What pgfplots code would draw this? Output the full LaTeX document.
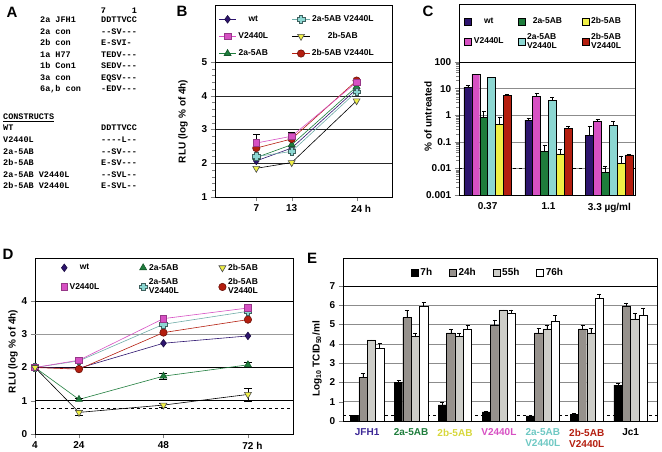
\documentclass[border=0pt]{standalone}
\usepackage{fontspec}
\setmainfont{Liberation Sans}
\newfontfamily\monofont{Liberation Mono}
\usepackage{pgfplots}
\pgfplotsset{compat=1.18}
\usetikzlibrary{plotmarks}

\definecolor{wtC}{RGB}{45,20,110}
\definecolor{vC}{RGB}{215,80,195}
\definecolor{gC}{RGB}{30,125,60}
\definecolor{cC}{RGB}{140,215,210}
\definecolor{yC}{RGB}{240,240,70}
\definecolor{rC}{RGB}{180,30,15}
\definecolor{jfhC}{RGB}{60,40,150}
\definecolor{ylab}{RGB}{215,215,60}
\definecolor{clab}{RGB}{110,200,195}
\definecolor{g24}{RGB}{150,145,140}
\definecolor{g55}{RGB}{205,205,200}

\pgfdeclareplotmark{fatcross}{%
  \pgfpathmoveto{\pgfqpoint{-0.45\pgfplotmarksize}{\pgfplotmarksize}}%
  \pgfpathlineto{\pgfqpoint{0.45\pgfplotmarksize}{\pgfplotmarksize}}%
  \pgfpathlineto{\pgfqpoint{0.45\pgfplotmarksize}{0.45\pgfplotmarksize}}%
  \pgfpathlineto{\pgfqpoint{\pgfplotmarksize}{0.45\pgfplotmarksize}}%
  \pgfpathlineto{\pgfqpoint{\pgfplotmarksize}{-0.45\pgfplotmarksize}}%
  \pgfpathlineto{\pgfqpoint{0.45\pgfplotmarksize}{-0.45\pgfplotmarksize}}%
  \pgfpathlineto{\pgfqpoint{0.45\pgfplotmarksize}{-\pgfplotmarksize}}%
  \pgfpathlineto{\pgfqpoint{-0.45\pgfplotmarksize}{-\pgfplotmarksize}}%
  \pgfpathlineto{\pgfqpoint{-0.45\pgfplotmarksize}{-0.45\pgfplotmarksize}}%
  \pgfpathlineto{\pgfqpoint{-\pgfplotmarksize}{-0.45\pgfplotmarksize}}%
  \pgfpathlineto{\pgfqpoint{-\pgfplotmarksize}{0.45\pgfplotmarksize}}%
  \pgfpathlineto{\pgfqpoint{-0.45\pgfplotmarksize}{0.45\pgfplotmarksize}}%
  \pgfpathclose
  \pgfusepathqfillstroke
}

\newcommand\lf{\bfseries\fontsize{8.5}{9.5}\selectfont}
\newcommand\tf{\bfseries\fontsize{10}{11}\selectfont}
\newcommand\af{\monofont\bfseries\fontsize{8.5}{9}\selectfont}

\pgfplotsset{
  sWT/.style={color=wtC, line width=0.6pt, mark=diamond*, mark size=3.8pt, mark options={solid, fill=wtC, draw=wtC!60!black}},
  sV/.style={color=vC, line width=0.6pt, mark=square*, mark size=3.3pt, mark options={solid, fill=vC, draw=vC!70!black}},
  s2a/.style={color=gC, line width=0.6pt, mark=triangle*, mark size=4pt, mark options={solid, fill=gC, draw=gC!70!black}},
  s2aV/.style={color=cC!80!black, line width=0.6pt, mark=fatcross, mark size=3.8pt, mark options={solid, fill=cC, draw=cC!45!black}},
  s2b/.style={color=black, line width=0.6pt, mark=triangle*, mark size=4pt, mark options={solid, rotate=180, fill=yC, draw=black!70}},
  s2bV/.style={color=rC, line width=0.6pt, mark=*, mark size=3.7pt, mark options={solid, fill=rC, draw=rC!60!black}},
  common/.style={scale only axis, anchor=north west,
    tick align=outside, xtick pos=bottom, ytick pos=left,
    ticklabel style={font=\tf}, label style={font=\tf},
    /pgf/number format/assume math mode=true,
    axis line style={line width=0.8pt},
    clip mode=individual,
    error bars/error bar style={black, line width=0.5pt}},
  barleg/.style={legend image code/.code={\draw[##1, draw=black, line width=0.4pt] (0pt,-3.5pt) rectangle (7pt,3.5pt);}},
  cbar/.style={ybar, bar width=0.13, bar shift=0, draw=black, line width=0.4pt, fill=#1,
    error bars/.cd, y dir=plus, y explicit},
  ebar/.style={ybar, bar width=0.19, bar shift=0, draw=black, line width=0.4pt, fill=#1,
    error bars/.cd, y dir=plus, y explicit},
}

\begin{document}
\begin{tikzpicture}[x=1pt,y=1pt]
\useasboundingbox (0,0) rectangle (662,-452);

% ---------------- Panel A ----------------
\node[font=\bfseries\fontsize{15}{15}\selectfont] at (12,-12) {A};
\node[anchor=south, font=\af, inner sep=0pt, align=center] at (103.5,-12.5) {\shortstack{7\\[-5pt].}};
\node[anchor=south, font=\af, inner sep=0pt, align=center] at (134.5,-12.5) {\shortstack{1\\[-5pt].}};
\foreach \yy/\lab/\sq in {23/2a JFH1/DDTTVCC, 34.5/2a con/--SV---, 46/2b con/E-SVI-, 57.5/1a H77/TEDV---, 69/1b Con1/SEDV---, 80.5/3a con/EQSV---, 92/{6a,b con}/-EDV---}{
  \node[anchor=base west, font=\af, inner sep=0pt] at (40,-\yy) {\lab};
  \node[anchor=base west, font=\af, inner sep=0pt] at (101,-\yy) {\sq};
}
\node[anchor=base west, font=\af, inner sep=0pt] at (3,-120) {\underline{CONSTRUCTS}};
\foreach \yy/\lab/\sq in {131/WT/DDTTVCC, 142.5/V2440L/----L--, 154/2a-5AB/--SV---, 165.5/2b-5AB/E-SV---, 177/2a-5AB V2440L/--SVL--, 188.5/2b-5AB V2440L/E-SVL--}{
  \node[anchor=base west, font=\af, inner sep=0pt] at (3,-\yy) {\lab};
  \node[anchor=base west, font=\af, inner sep=0pt] at (101,-\yy) {\sq};
}

% ---------------- Panel B ----------------
\node[font=\bfseries\fontsize{15}{15}\selectfont] at (182,-11) {B};
\begin{axis}[common,
  at={(215pt,-62pt)}, width=177pt, height=135pt,
  xmin=0, xmax=30, ymin=1, ymax=5,
  xtick={7,13,24}, xticklabels={7,13,{24\rlap{ h}}},
  ytick={1,2,3,4,5}, minor y tick num=4,
  ymajorgrids, major grid style={black!85, line width=0.5pt},
  ylabel={RLU (log \% of 4h)}, ylabel style={at={(axis description cs:-0.18,0.56)}, anchor=center},
  legend columns=2,
  legend style={at={(0.02,1.36)}, anchor=north west, draw=none, fill=none, font=\lf, inner sep=0pt,
    row sep=5.5pt, /tikz/every even column/.append style={column sep=22pt}},
]
\draw[line width=0.8pt] (rel axis cs:0,1) rectangle (rel axis cs:1,1.422);
\addplot[sWT, forget plot] coordinates {(7,2.07) (13,2.45) (24,4.2)};
\addplot[s2a, forget plot] coordinates {(7,2.17) (13,2.55) (24,4.27)};
\addplot[s2aV, forget plot] coordinates {(7,2.2) (13,2.35) (24,4.12)};
\addplot[s2b, forget plot] coordinates {(7,1.85) (13,2.02) (24,3.85)};
\addplot[s2bV, forget plot] coordinates {(7,2.45) (13,2.72) (24,4.45)};
\addplot[sV, forget plot, error bars/.cd, y dir=plus, y explicit] coordinates {(7,2.6) +- (0,0.25) (13,2.8) +- (0,0.12) (24,4.4) +- (0,0)};
\addlegendimage{sWT}\addlegendentry{wt}
\addlegendimage{s2aV}\addlegendentry{2a-5AB V2440L}
\addlegendimage{sV}\addlegendentry{V2440L}
\addlegendimage{s2b}\addlegendentry{2b-5AB}
\addlegendimage{s2a}\addlegendentry{2a-5AB}
\addlegendimage{s2bV}\addlegendentry{2b-5AB V2440L}
\end{axis}

% ---------------- Panel C ----------------
\node[font=\bfseries\fontsize{15}{15}\selectfont] at (428,-11) {C};
\begin{axis}[common, barleg,
  at={(459pt,-62pt)}, width=176pt, height=133pt,
  ymode=log, ymin=0.001, ymax=100, log origin y=infty,
  xmin=-0.47, xmax=2.42,
  xtick={0,1,2}, xticklabels={0.37,1.1,3.3 µg/ml}, xtick style={draw=none},
  ytick={0.001,0.01,0.1,1,10,100}, yticklabels={0.001,0.01,0.1,1,10,100},
  ymajorgrids, major grid style={black!45, line width=0.5pt},
  ylabel={\% of untreated}, ylabel style={at={(axis description cs:-0.176,0.59)}, anchor=center},
  legend columns=3,
  legend style={at={(0.03,1.35)}, anchor=north west, draw=none, fill=none, font=\lf, inner sep=0pt,
    row sep=4pt, /tikz/every even column/.append style={column sep=12pt}},
]
\draw[line width=0.8pt] (rel axis cs:0,1) rectangle (rel axis cs:1,1.436);
\addplot[black, dashed, line width=1pt, forget plot] coordinates {(-0.47,0.01) (2.42,0.01)};
\addplot[cbar=wtC] coordinates {(-0.325,11) +- (0,2) (0.675,0.65) +- (0,0.15) (1.675,0.18) +- (0,0.21)};
\addlegendentry{wt}
\addplot[cbar=gC] coordinates {(-0.065,0.82) +- (0,0.55) (0.935,0.045) +- (0,0.03) (1.935,0.0073) +- (0,0.0043)};
\addlegendentry{2a-5AB}
\addplot[cbar=yC] coordinates {(0.195,0.45) +- (0,0.42) (1.195,0.035) +- (0,0.018) (2.195,0.0155) +- (0,0.0145)};
\addlegendentry{2b-5AB}
\addplot[cbar=vC] coordinates {(-0.195,34.5) +- (0,1.5) (0.805,5.2) +- (0,1.3) (1.805,0.6) +- (0,0.09)};
\addlegendentry{V2440L}
\addplot[cbar=cC] coordinates {(0.065,26) +- (0,0) (1.065,3.7) +- (0,1.2) (2.065,0.42) +- (0,0.18)};
\addlegendentry{\shortstack[l]{2a-5AB\\V2440L}\hspace*{11pt}}
\addplot[cbar=rC] coordinates {(0.325,5.6) +- (0,0.3) (1.325,0.33) +- (0,0.06) (2.325,0.032) +- (0,0.002)};
\addlegendentry{\shortstack[l]{2b-5AB\\V2440L}}
\end{axis}

% ---------------- Panel D ----------------
\node[font=\bfseries\fontsize{15}{15}\selectfont] at (8,-254) {D};
\begin{axis}[common,
  at={(35pt,-301pt)}, width=258pt, height=133pt,
  xmin=11.5, xmax=84.8, ymin=0, ymax=4,
  xtick={11.5,24,48,72}, xticklabels={4,24,48,{72\rlap{ h}}},
  ytick={0,1,2,4}, extra y ticks={3},
  extra y tick style={ymajorgrids, major grid style={black!40, line width=0.8pt}},
  ymajorgrids, major grid style={black, line width=0.5pt},
  ylabel={RLU (log \% of 4h)}, ylabel style={at={(axis description cs:-0.085,0.62)}, anchor=center},
  legend columns=3,
  legend style={at={(0.1,1.295)}, anchor=north west, draw=none, fill=none, font=\lf, inner sep=0pt,
    row sep=3pt, /tikz/every even column/.append style={column sep=38pt}},
]
\draw[line width=0.8pt] (rel axis cs:0,1) rectangle (rel axis cs:1,1.32);
\addplot[black, dashed, line width=1pt, forget plot] coordinates {(11.5,0.78) (84.8,0.78)};
\addplot[sWT, forget plot] coordinates {(11.5,2.0) (24,1.98) (48,2.73) (72,2.95)};
\addplot[s2a, forget plot, error bars/.cd, y dir=both, y explicit] coordinates {(11.5,2.0) +- (0,0) (24,1.04) +- (0,0.03) (48,1.74) +- (0,0.1) (72,2.08) +- (0,0.08)};
\addplot[s2bV, forget plot] coordinates {(11.5,2.0) (24,1.95) (48,3.05) (72,3.44)};
\addplot[s2aV, forget plot] coordinates {(11.5,2.0) (24,2.2) (48,3.3) (72,3.69)};
\addplot[sV, forget plot] coordinates {(11.5,2.0) (24,2.22) (48,3.47) (72,3.79)};
\addplot[s2b, forget plot, error bars/.cd, y dir=both, y explicit] coordinates {(11.5,2.0) +- (0,0) (24,0.65) +- (0,0.08) (48,0.87) +- (0,0.05) (72,1.19) +- (0,0.2)};
\addlegendimage{sWT, only marks}\addlegendentry{wt}
\addlegendimage{s2a, only marks}\addlegendentry{2a-5AB}
\addlegendimage{s2b, only marks}\addlegendentry{2b-5AB}
\addlegendimage{sV, only marks}\addlegendentry{V2440L}
\addlegendimage{s2aV, only marks}\addlegendentry{\shortstack[l]{2a-5AB\\V2440L}}
\addlegendimage{s2bV, only marks}\addlegendentry{\shortstack[l]{2b-5AB\\V2440L}}
\end{axis}

% ---------------- Panel E ----------------
\node[font=\bfseries\fontsize{15}{15}\selectfont] at (312,-258) {E};
\begin{axis}[common, barleg,
  at={(343pt,-286pt)}, width=314pt, height=135pt,
  xmin=-0.55, xmax=6.6, ymin=0, ymax=7,
  xtick={0,...,6}, xtick style={draw=none},
  xticklabel style={align=center, anchor=north},
  xticklabels={{\textcolor{jfhC}{JFH1}},{\textcolor{gC}{2a-5AB}},{\textcolor{ylab}{2b-5AB}},{\textcolor{vC}{V2440L}},{\textcolor{clab}{2a-5AB}\\\textcolor{clab}{V2440L}},{\textcolor{rC}{2b-5AB}\\\textcolor{rC}{V2440L}},{Jc1}},
  ytick={0,...,7},
  ymajorgrids, major grid style={black!45, line width=0.5pt},
  ylabel={Log\textsubscript{10} TCID\textsubscript{50}/ml}, ylabel style={at={(axis description cs:-0.083,0.46)}, anchor=center},
  legend columns=4,
  legend style={at={(0.462,1.096)}, anchor=center, draw=none, fill=none, font=\tf, inner sep=0pt,
    /tikz/every even column/.append style={column sep=15pt}},
]
\draw[line width=0.8pt] (rel axis cs:0,1) rectangle (rel axis cs:1,1.207);
\addplot[black, dashed, line width=1pt, forget plot] coordinates {(-0.55,0.28) (6.6,0.28)};
\addplot[ebar=black] coordinates {(-0.285,0.3) +- (0,0) (0.715,2.0) +- (0,0.09) (1.715,0.83) +- (0,0.16) (2.715,0.47) +- (0,0.05) (3.715,0.26) +- (0,0) (4.715,0.35) +- (0,0.03) (5.715,1.86) +- (0,0.11)};
\addlegendentry{7h}
\addplot[ebar=g24] coordinates {(-0.095,2.26) +- (0,0.23) (0.905,5.36) +- (0,0.36) (1.905,4.57) +- (0,0.21) (2.905,4.99) +- (0,0.26) (3.905,4.57) +- (0,0.25) (4.905,4.78) +- (0,0.21) (5.905,5.97) +- (0,0.15)};
\addlegendentry{24h}
\addplot[ebar=g55] coordinates {(0.095,4.21) +- (0,0) (1.095,4.4) +- (0,0.17) (2.095,4.4) +- (0,0.17) (3.095,5.76) +- (0,0) (4.095,4.78) +- (0,0.21) (5.095,4.57) +- (0,0.25) (6.095,5.3) +- (0,0.27)};
\addlegendentry{55h}
\addplot[ebar=white] coordinates {(0.285,3.79) +- (0,0.26) (1.285,5.97) +- (0,0.17) (2.285,4.78) +- (0,0.21) (3.285,5.57) +- (0,0.2) (4.285,5.18) +- (0,0.3) (5.285,6.35) +- (0,0.21) (6.285,5.51) +- (0,0.32)};
\addlegendentry{76h}
\end{axis}
\end{tikzpicture}
\end{document}
